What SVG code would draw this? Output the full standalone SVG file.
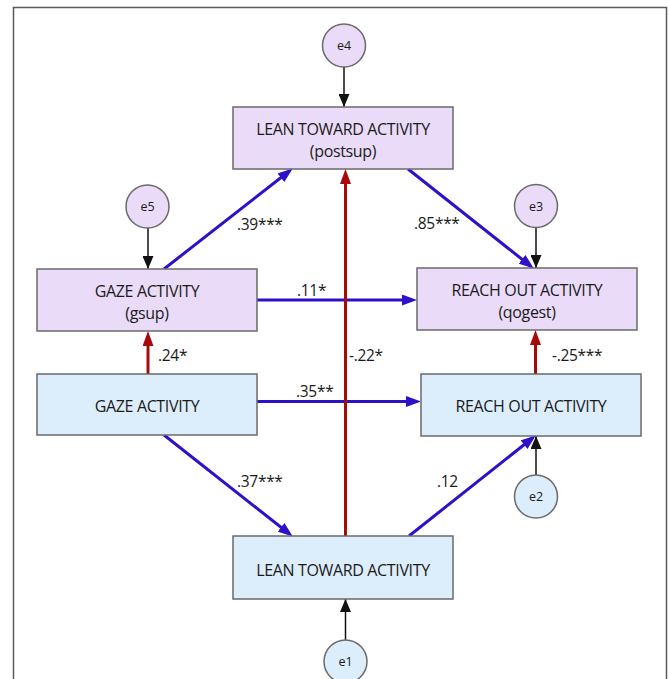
<svg xmlns="http://www.w3.org/2000/svg" width="670" height="679" viewBox="0 0 670 679">
<style>
.frame{fill:#fff;stroke:#5a5a5a;stroke-width:1.5}
.box{stroke:#6a6a6a;stroke-width:1.5}
.p{fill:#eadcf8}
.b{fill:#dcedfc}
.t{font-family:"Open Sans","Liberation Sans",sans-serif;font-size:16px;fill:#1a1a1a;text-anchor:middle;letter-spacing:-0.35px}
.s{font-size:12.5px;letter-spacing:0}
.lbl{font-family:"Open Sans","Liberation Sans",sans-serif;font-size:15.5px;fill:#1a1a1a;letter-spacing:-0.3px}
.blue{stroke:#2d10c8;stroke-width:3;fill:none}
.red{stroke:#a80a0a;stroke-width:3;fill:none}
.blk{stroke:#111;stroke-width:1.5;fill:none}
</style>
<defs>
<marker id="ab" markerUnits="userSpaceOnUse" markerWidth="15" markerHeight="11" refX="10" refY="5.5" orient="auto"><path d="M0,0 L15,5.5 L0,11 z" fill="#2d10c8"/></marker>
<marker id="ar" markerUnits="userSpaceOnUse" markerWidth="15" markerHeight="11" refX="10" refY="5.5" orient="auto"><path d="M0,0 L15,5.5 L0,11 z" fill="#a80a0a"/></marker>
<marker id="ak" markerUnits="userSpaceOnUse" markerWidth="13" markerHeight="11" refX="13" refY="5.5" orient="auto"><path d="M0,0 L13,5.5 L0,11 z" fill="#111"/></marker>
</defs>
<rect class="frame" x="13.5" y="7.5" width="653" height="690"/>
<g id="connectors">
<line class="blue" x1="164" y1="269" x2="288.8" y2="171.5" marker-end="url(#ab)"/>
<line class="blue" x1="408" y1="169" x2="529.9" y2="265.5" marker-end="url(#ab)"/>
<line class="blue" x1="257" y1="300" x2="412" y2="300" marker-end="url(#ab)"/>
<line class="blue" x1="257" y1="401.5" x2="416" y2="401.5" marker-end="url(#ab)"/>
<line class="blue" x1="164" y1="435" x2="288.9" y2="533.5" marker-end="url(#ab)"/>
<line class="blue" x1="409" y1="536" x2="531.9" y2="438.5" marker-end="url(#ab)"/>
<line class="red" x1="148" y1="374" x2="148" y2="336" marker-end="url(#ar)"/>
<line class="red" x1="345.5" y1="536" x2="345.5" y2="174" marker-end="url(#ar)"/>
<line class="red" x1="535.5" y1="374" x2="535.5" y2="335" marker-end="url(#ar)"/>
<line class="blk" x1="344" y1="67" x2="344" y2="107" marker-end="url(#ak)"/>
<line class="blk" x1="148" y1="228" x2="148" y2="269" marker-end="url(#ak)"/>
<line class="blk" x1="536" y1="227" x2="536" y2="268" marker-end="url(#ak)"/>
<line class="blk" x1="536" y1="475" x2="536" y2="436" marker-end="url(#ak)"/>
<line class="blk" x1="345.5" y1="640" x2="345.5" y2="599" marker-end="url(#ak)"/>
</g>
<g id="labels">
<text class="lbl" x="237" y="230">.39***</text>
<text class="lbl" x="414" y="229">.85***</text>
<text class="lbl" x="297" y="296">.11*</text>
<text class="lbl" x="158" y="361">.24*</text>
<text class="lbl" x="349" y="361">-.22*</text>
<text class="lbl" x="552" y="361">-.25***</text>
<text class="lbl" x="296" y="397">.35**</text>
<text class="lbl" x="237" y="487">.37***</text>
<text class="lbl" x="437" y="487">.12</text>
</g>
<g id="e4"><ellipse class="box p" cx="344" cy="45.5" rx="21.5" ry="21.5"/><text class="t s" x="344" y="50">e4</text></g>
<g id="postsup"><rect class="box p" x="233" y="107" width="220" height="62"/><text class="t" x="343" y="135">LEAN TOWARD ACTIVITY</text><text class="t" x="343" y="157">(postsup)</text></g>
<g id="e5"><ellipse class="box p" cx="147.5" cy="206.5" rx="21.5" ry="21.5"/><text class="t s" x="147.5" y="211">e5</text></g>
<g id="e3"><ellipse class="box p" cx="536" cy="206" rx="21.5" ry="21.5"/><text class="t s" x="536" y="210.5">e3</text></g>
<g id="gsup"><rect class="box p" x="37" y="269" width="220" height="62"/><text class="t" x="147" y="297">GAZE ACTIVITY</text><text class="t" x="147" y="319">(gsup)</text></g>
<g id="qogest"><rect class="box p" x="417" y="268" width="220" height="62"/><text class="t" x="527" y="296">REACH OUT ACTIVITY</text><text class="t" x="527" y="318">(qogest)</text></g>
<g id="gaze"><rect class="box b" x="37" y="374" width="220" height="61"/><text class="t" x="147" y="412">GAZE ACTIVITY</text></g>
<g id="reach"><rect class="box b" x="421" y="374" width="220" height="62"/><text class="t" x="531" y="412">REACH OUT ACTIVITY</text></g>
<g id="e2"><ellipse class="box b" cx="536" cy="496.5" rx="21.5" ry="21.5"/><text class="t s" x="536" y="501">e2</text></g>
<g id="lean"><rect class="box b" x="233" y="536" width="220" height="63"/><text class="t" x="343" y="576">LEAN TOWARD ACTIVITY</text></g>
<g id="e1"><ellipse class="box b" cx="345.5" cy="661.5" rx="21.5" ry="21.5"/><text class="t s" x="345.5" y="666">e1</text></g>
</svg>
